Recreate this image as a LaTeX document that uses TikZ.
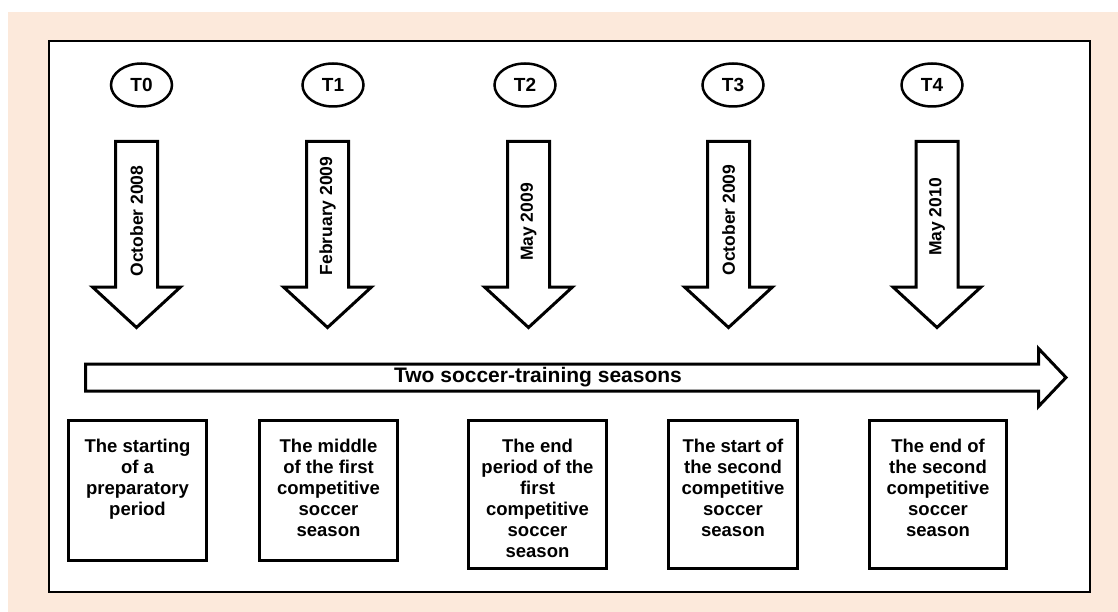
\documentclass[tikz,border=0pt]{standalone}
\usepackage{fontspec}
\setmainfont{Liberation Sans}
\usepackage{tikz}
\usetikzlibrary{shapes.geometric, positioning, calc}
\usepackage{xcolor}
\definecolor{peachbg}{RGB}{252, 233, 219}
\definecolor{inkblack}{RGB}{0, 0, 0}

\tikzset{
  timept/.style={draw=inkblack, ellipse, line width=2.5pt, minimum width=61pt, minimum height=43pt, inner sep=0pt, font=\fontsize{19}{22}\selectfont\bfseries},
  datelbl/.style={rotate=90, inner sep=0pt, font=\fontsize{17.5}{20}\selectfont\bfseries},
  blockarrow/.style={draw=inkblack, fill=white, line width=3pt, miter limit=3},
  phasebox/.style={draw=inkblack, fill=white, line width=3pt, inner sep=0pt, anchor=north, font=\fontsize{18.5}{21}\selectfont\bfseries}
}
\newcommand{\phasetext}[3]{\parbox[c][#2pt][t]{#1pt}{\centering\vspace*{19pt}#3}}

\begin{document}
\begin{tikzpicture}[x=1pt, y=-1pt]
    \useasboundingbox (0,0) rectangle (1118,612);
    % Fondo y marco
    \fill[peachbg] (8,12) rectangle (1118,612);
    \draw[inkblack, line width=2pt, fill=white] (49,41) rectangle (1090,592);

    % Flecha de las temporadas
    \draw[blockarrow] (85.5,364) -- (1038.5,364) -- (1038.5,348.5) -- (1066,377.5)
        -- (1038.5,406.5) -- (1038.5,391) -- (85.5,391) -- cycle;
    \node[font=\fontsize{21}{24}\selectfont\bfseries] (seasons) at (538,377.5) {Two soccer-training seasons};

    % T0
    \begin{scope}[shift={(136.5,0)}]
        \node[timept] (t0) at (5,85) {T0};
        \draw[blockarrow] (-21,141.5) -- (21,141.5) -- (21,287) -- (44,287) -- (0,327.5)
            -- (-44,287) -- (-21,287) -- cycle;
        \node[datelbl] (d0) at (0,221) {October 2008};
        \node[phasebox] (b0) at (1,418.5) {\phasetext{138}{140}{The starting\\ of a\\ preparatory\\ period}};
    \end{scope}

    % T1
    \begin{scope}[shift={(327.5,0)}]
        \node[timept] (t1) at (5.5,85) {T1};
        \draw[blockarrow] (-21,141.5) -- (21,141.5) -- (21,287) -- (44,287) -- (0,327.5)
            -- (-44,287) -- (-21,287) -- cycle;
        \node[datelbl] (d1) at (0,216) {February 2009};
        \node[phasebox] (b1) at (1,418.5) {\phasetext{138}{140}{The middle\\ of the first\\ competitive\\ soccer\\ season}};
    \end{scope}

    % T2
    \begin{scope}[shift={(528.5,0)}]
        \node[timept] (t2) at (-3.5,85) {T2};
        \draw[blockarrow] (-21,141.5) -- (21,141.5) -- (21,287) -- (44,287) -- (0,327.5)
            -- (-44,287) -- (-21,287) -- cycle;
        \node[datelbl] (d2) at (0,222) {May 2009};
        \node[phasebox] (b2) at (9,418.5) {\phasetext{138}{148}{The end\\ period of the\\ first\\ competitive\\ soccer\\ season}};
    \end{scope}

    % T3
    \begin{scope}[shift={(728.5,0)}]
        \node[timept] (t3) at (4.5,85) {T3};
        \draw[blockarrow] (-21,141.5) -- (21,141.5) -- (21,287) -- (44,287) -- (0,327.5)
            -- (-44,287) -- (-21,287) -- cycle;
        \node[datelbl] (d3) at (0,220) {October 2009};
        \node[phasebox] (b3) at (4.5,418.5) {\phasetext{129}{148}{The start of\\ the second\\ competitive\\ soccer\\ season}};
    \end{scope}

    % T4
    \begin{scope}[shift={(937,0)}]
        \node[timept] (t4) at (-5,85) {T4};
        \draw[blockarrow] (-21,141.5) -- (21,141.5) -- (21,287) -- (44,287) -- (0,327.5)
            -- (-44,287) -- (-21,287) -- cycle;
        \node[datelbl] (d4) at (0,217) {May 2010};
        \node[phasebox] (b4) at (1,418.5) {\phasetext{137}{148}{The end of\\ the second\\ competitive\\ soccer\\ season}};
    \end{scope}
\end{tikzpicture}
\end{document}
